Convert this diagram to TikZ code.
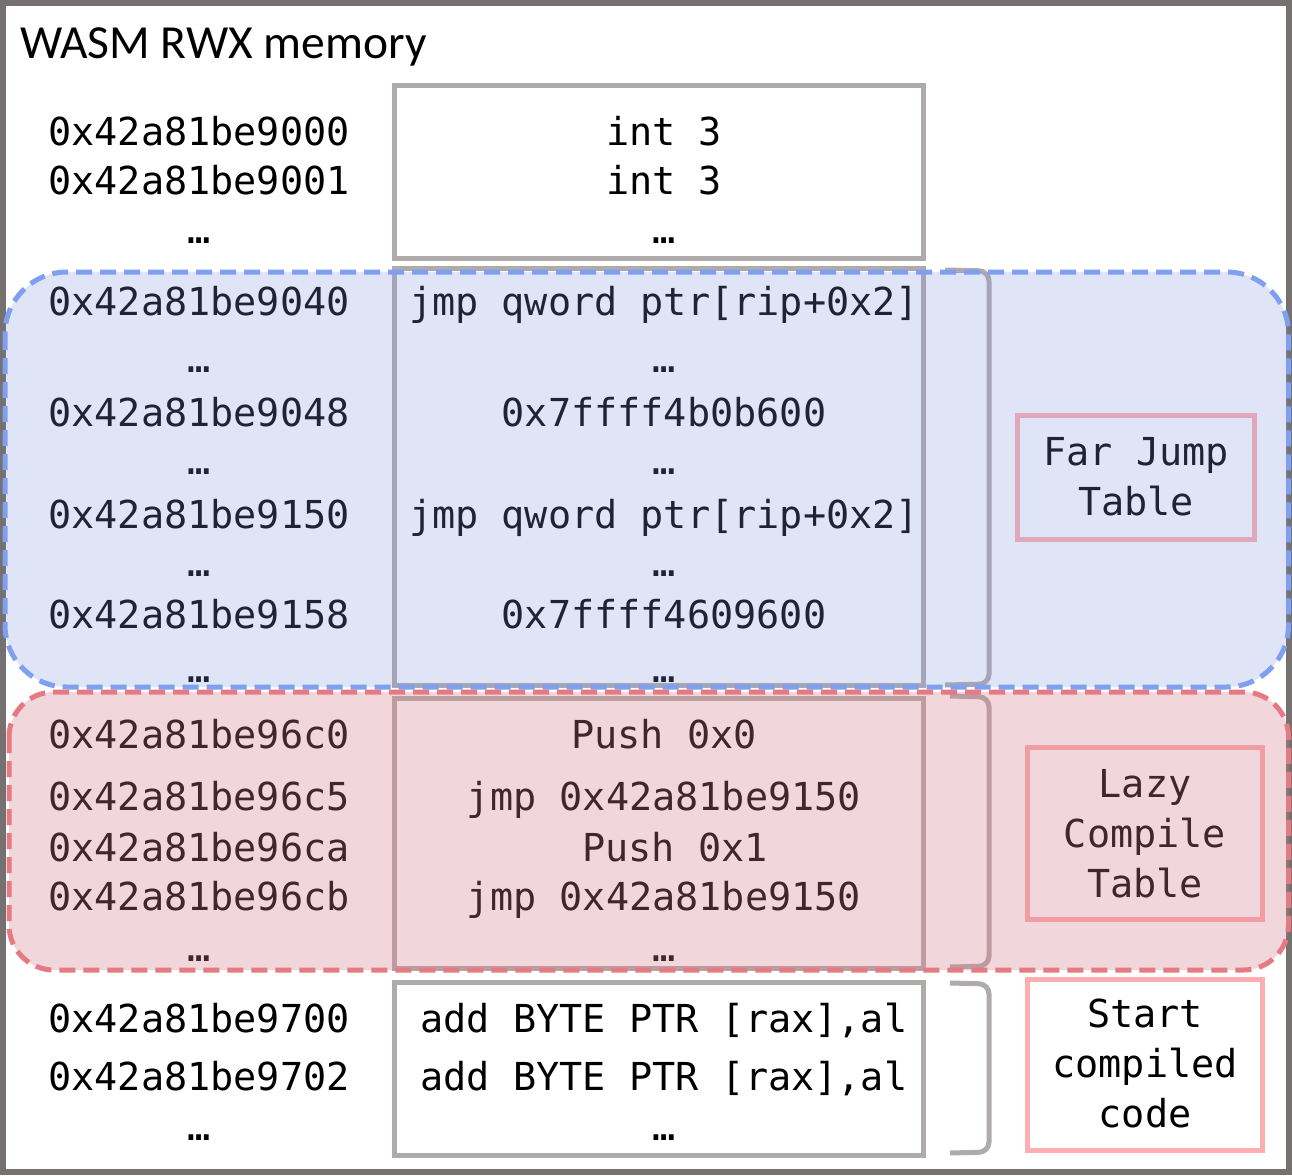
\documentclass[tikz,border=0pt]{standalone}
\usepackage{fontspec}
\newfontfamily\monofont{DejaVu Sans Mono}
\newfontfamily\titlefont{Carlito}
\definecolor{bordergrey}{RGB}{118,113,113}
\definecolor{boxgrey}{RGB}{175,171,171}
\definecolor{labelpink}{RGB}{253,175,176}
\definecolor{bluefill}{RGB}{131,147,225}
\definecolor{blueline}{RGB}{127,159,240}
\definecolor{redfill}{RGB}{213,123,139}
\definecolor{redline}{RGB}{229,122,131}
\begin{document}
\begin{tikzpicture}[x=1pt,y=-1pt,
  txt/.style={font={\monofont\fontsize{38.5}{46}\selectfont}, anchor=base, inner sep=0pt, outer sep=0pt},
  gbox/.style={draw=boxgrey, line width=5pt},
  brk/.style={draw=boxgrey, line width=5pt, rounded corners=10pt},
  lbox/.style={draw=labelpink, line width=5pt},
  regionline/.style={line width=5pt, dash pattern=on 16pt off 8pt},
]
\useasboundingbox (0,0) rectangle (1292,1175);
\fill[white] (0,0) rectangle (1292,1175);
% outer border
\draw[bordergrey, line width=6pt] (3,3) rectangle (1289,1172);
% title
\node[anchor=base west, inner sep=0pt, font={\titlefont\fontsize{47.5}{54}\selectfont}] (title) at (20,58) {WASM RWX memory};
% grey boxes
\draw[gbox] (394.5,85) rectangle (923,258);
\draw[gbox] (394.5,268) rectangle (923,685);
\draw[gbox] (394.5,698) rectangle (923,968);
\draw[gbox] (394.5,982) rectangle (923,1155);
% brackets
\draw[brk] (945,270) -- (989,271) -- (989,684) -- (945,685);
\draw[brk] (950,696) -- (989,697) -- (989,966) -- (950,967);
\draw[brk] (950,983) -- (989,984) -- (989,1152) -- (950,1153);
% label boxes
\draw[lbox] (1017.5,415.5) rectangle (1254.5,539);
\draw[lbox] (1027.5,747.5) rectangle (1262.5,919);
\draw[lbox] (1027.5,979.5) rectangle (1262.5,1150.5);
% addresses
\node[txt] (a1) at (199,145) {0x42a81be9000};
\node[txt] (a2) at (199,194) {0x42a81be9001};
\node[txt] (a3) at (199,243) {…};
\node[txt] (a4) at (199,315) {0x42a81be9040};
\node[txt] (a5) at (199,372) {…};
\node[txt] (a6) at (199,426) {0x42a81be9048};
\node[txt] (a7) at (199,474) {…};
\node[txt] (a8) at (199,528) {0x42a81be9150};
\node[txt] (a9) at (199,576) {…};
\node[txt] (a10) at (199,628) {0x42a81be9158};
\node[txt] (a11) at (199,682) {…};
\node[txt] (a12) at (199,748) {0x42a81be96c0};
\node[txt] (a13) at (199,810) {0x42a81be96c5};
\node[txt] (a14) at (199,861) {0x42a81be96ca};
\node[txt] (a15) at (199,910) {0x42a81be96cb};
\node[txt] (a16) at (199,961) {…};
\node[txt] (a17) at (199,1032) {0x42a81be9700};
\node[txt] (a18) at (199,1090) {0x42a81be9702};
\node[txt] (a19) at (199,1140) {…};
% code
\node[txt] (c1) at (664,145) {int 3};
\node[txt] (c2) at (664,194) {int 3};
\node[txt] (c3) at (664,243) {…};
\node[txt] (c4) at (664,315) {jmp qword ptr[rip+0x2]};
\node[txt] (c5) at (664,372) {…};
\node[txt] (c6) at (664,426) {0x7ffff4b0b600};
\node[txt] (c7) at (664,474) {…};
\node[txt] (c8) at (664,528) {jmp qword ptr[rip+0x2]};
\node[txt] (c9) at (664,576) {…};
\node[txt] (c10) at (664,628) {0x7ffff4609600};
\node[txt] (c11) at (664,682) {…};
\node[txt] (c12) at (664,748) {Push 0x0};
\node[txt] (c13) at (664,810) {jmp 0x42a81be9150};
\node[txt] (c14) at (675,861) {Push 0x1};
\node[txt] (c15) at (664,910) {jmp 0x42a81be9150};
\node[txt] (c16) at (664,961) {…};
\node[txt] (c17) at (664,1032) {add BYTE PTR [rax],al};
\node[txt] (c18) at (664,1090) {add BYTE PTR [rax],al};
\node[txt] (c19) at (664,1140) {…};
% labels
\node[txt] (l1) at (1136,465) {Far Jump};
\node[txt] (l2) at (1136,515) {Table};
\node[txt] (l3) at (1145,797) {Lazy};
\node[txt] (l4) at (1145,847) {Compile};
\node[txt] (l5) at (1145,897) {Table};
\node[txt] (l6) at (1145,1027) {Start};
\node[txt] (l7) at (1145,1077) {compiled};
\node[txt] (l8) at (1145,1127) {code};
% region overlays
\fill[bluefill, fill opacity=0.245, rounded corners=62pt] (5,272) rectangle (1288.5,687);
\fill[redfill, fill opacity=0.31, rounded corners=45pt] (9,692) rectangle (1288.5,970);
\draw[regionline, blueline, rounded corners=62pt] (5,272) rectangle (1288.5,687);
\draw[regionline, redline, rounded corners=45pt] (9,692) rectangle (1288.5,970);
\end{tikzpicture}
\end{document}
